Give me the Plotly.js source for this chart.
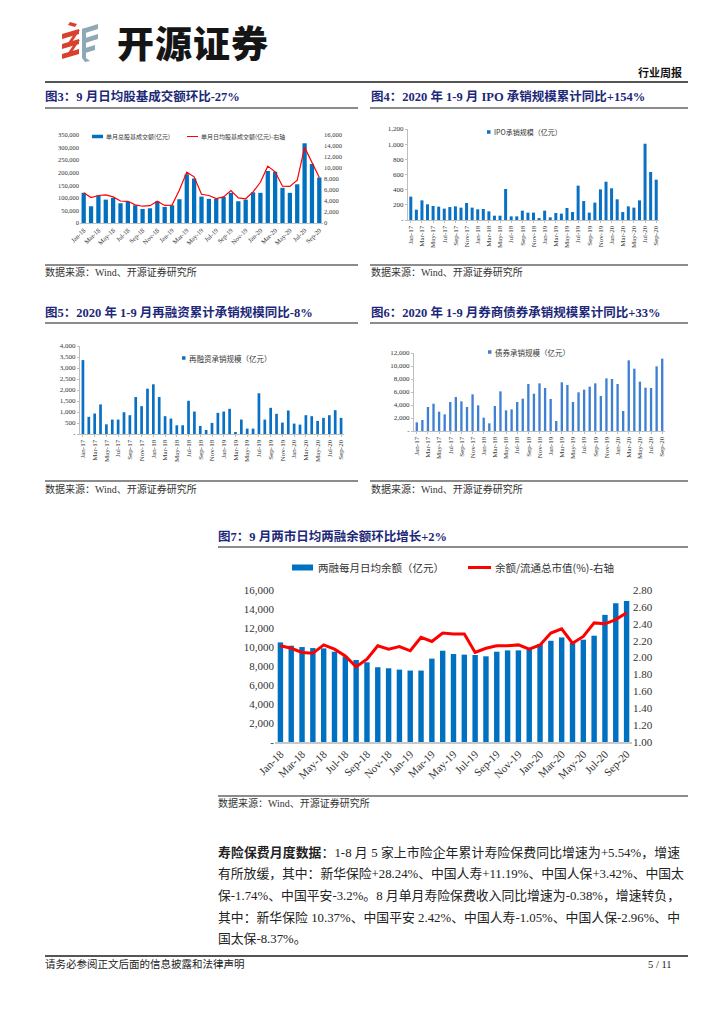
<!DOCTYPE html>
<html><head><meta charset="utf-8">
<script src="https://cdn.plot.ly/plotly-3.0.1.min.js"></script>
<style>
html,body{margin:0;padding:0;background:#fff;}
body{width:724px;height:1024px;position:relative;overflow:hidden;font-family:"Liberation Serif","Noto Sans CJK SC",serif;color:#222;}
.ttl{position:absolute;font-size:12.5px;line-height:16px;font-weight:bold;color:#1c2878;white-space:nowrap;}
.hl{position:absolute;height:0;border-top:2px solid #8c8c8c;}
.src{position:absolute;font-size:10px;line-height:14px;color:#333;white-space:nowrap;}
.chart{position:absolute;}
.para{position:absolute;left:218px;width:462px;font-size:12.8px;line-height:22px;color:#222;text-align:justify;text-align-last:justify;white-space:nowrap;}
</style></head>
<body>
<svg style="position:absolute;left:0;top:0" width="110" height="70">
  <polygon points="70,22 77,24 75,27 68,25" fill="#d8412e"/>
  <polygon points="62,34 79,29 79,34 62,39" fill="#d8412e"/>
  <polygon points="62,44 79,39 79,44 62,49" fill="#d8412e"/>
  <polygon points="62,54 79,49 79,54 62,59" fill="#d8412e"/>
  <polygon points="76,31 80,30 72,42 68,43" fill="#d8412e"/>
  <polygon points="76,41 80,40 72,52 68,53" fill="#d8412e"/>
  <polygon points="82,29 98,24 98,29 82,34" fill="#8fa8b6"/>
  <polygon points="82,39 98,34 98,39 82,44" fill="#8fa8b6"/>
  <polygon points="82,49 95,45 95,50 82,54" fill="#8fa8b6"/>
  <polygon points="82,29 86,28 86,58 90,61 85,62 82,58" fill="#8fa8b6"/>
</svg>
<div style="position:absolute;left:117px;top:18px;font-family:'Noto Sans CJK SC';font-weight:900;font-size:37px;line-height:48px;color:#151515;letter-spacing:1px;">开源证券</div>
<div style="position:absolute;left:638px;top:65px;font-family:'Noto Sans CJK SC';font-weight:bold;font-size:11px;line-height:14px;color:#111;">行业周报</div>
<div class="hl" style="left:45px;width:643px;top:81px;border-top:2px solid #555;"></div>

<div class="ttl" style="left:45px;top:89px;">图3：9 月日均股基成交额环比-27%</div>
<div class="ttl" style="left:371px;top:89px;">图4：2020 年 1-9 月 IPO 承销规模累计同比+154%</div>
<div class="hl" style="left:45px;width:313px;top:107px;"></div>
<div class="hl" style="left:370px;width:318px;top:107px;"></div>

<div id="c3" class="chart" style="left:40px;top:120px;width:310px;height:140px;"></div>
<div id="c4" class="chart" style="left:365px;top:115px;width:310px;height:140px;"></div>

<div class="hl" style="left:45px;width:313px;top:264px;"></div>
<div class="hl" style="left:370px;width:318px;top:264px;"></div>
<div class="src" style="left:45px;top:266px;">数据来源：Wind、开源证券研究所</div>
<div class="src" style="left:371px;top:266px;">数据来源：Wind、开源证券研究所</div>

<div class="ttl" style="left:45px;top:305px;">图5：2020 年 1-9 月再融资累计承销规模同比-8%</div>
<div class="ttl" style="left:371px;top:305px;">图6：2020 年 1-9 月券商债券承销规模累计同比+33%</div>
<div class="hl" style="left:45px;width:313px;top:322px;"></div>
<div class="hl" style="left:370px;width:318px;top:322px;"></div>

<div id="c5" class="chart" style="left:40px;top:335px;width:310px;height:135px;"></div>
<div id="c6" class="chart" style="left:365px;top:335px;width:310px;height:135px;"></div>

<div class="hl" style="left:45px;width:313px;top:480px;"></div>
<div class="hl" style="left:370px;width:318px;top:480px;"></div>
<div class="src" style="left:45px;top:483px;">数据来源：Wind、开源证券研究所</div>
<div class="src" style="left:371px;top:483px;">数据来源：Wind、开源证券研究所</div>

<div class="ttl" style="left:218px;top:529px;">图7：9 月两市日均两融余额环比增长+2%</div>
<div class="hl" style="left:218px;width:470px;top:546px;"></div>

<div id="c7" class="chart" style="left:215px;top:555px;width:460px;height:240px;"></div>

<div class="hl" style="left:218px;width:470px;top:795px;"></div>
<div class="src" style="left:218px;top:797px;">数据来源：Wind、开源证券研究所</div>

<div class="para" style="top:841px;"><b style="font-family:'Noto Sans CJK SC';">寿险保费月度数据</b>：1-8 月 5 家上市险企年累计寿险保费同比增速为+5.54%，增速</div>
<div class="para" style="top:863px;">有所放缓，其中：新华保险+28.24%、中国人寿+11.19%、中国人保+3.42%、中国太</div>
<div class="para" style="top:885px;">保-1.74%、中国平安-3.2%。8 月单月寿险保费收入同比增速为-0.38%，增速转负，</div>
<div class="para" style="top:907px;">其中：新华保险 10.37%、中国平安 2.42%、中国人寿-1.05%、中国人保-2.96%、中</div>
<div class="para" style="top:928px;text-align-last:left;">国太保-8.37%。</div>

<div class="hl" style="left:45px;width:643px;top:955px;border-top:2px solid #555;"></div>
<div class="src" style="left:45px;top:958px;font-size:10.5px;color:#222;">请务必参阅正文后面的信息披露和法律声明</div>
<div class="src" style="left:648px;top:958px;font-size:10.5px;color:#222;">5 / 11</div>

<script>
// ---------- data ----------
const months18 = ["Jan-18","Feb-18","Mar-18","Apr-18","May-18","Jun-18","Jul-18","Aug-18","Sep-18","Oct-18","Nov-18","Dec-18",
  "Jan-19","Feb-19","Mar-19","Apr-19","May-19","Jun-19","Jul-19","Aug-19","Sep-19","Oct-19","Nov-19","Dec-19",
  "Jan-20","Feb-20","Mar-20","Apr-20","May-20","Jun-20","Jul-20","Aug-20","Sep-20"];
const months17 = ["Jan-17","Feb-17","Mar-17","Apr-17","May-17","Jun-17","Jul-17","Aug-17","Sep-17","Oct-17","Nov-17","Dec-17",
  "Jan-18","Feb-18","Mar-18","Apr-18","May-18","Jun-18","Jul-18","Aug-18","Sep-18","Oct-18","Nov-18","Dec-18",
  "Jan-19","Feb-19","Mar-19","Apr-19","May-19","Jun-19","Jul-19","Aug-19","Sep-19","Oct-19","Nov-19","Dec-19",
  "Jan-20","Feb-20","Mar-20","Apr-20","May-20","Jun-20","Jul-20","Aug-20","Sep-20"];
const ticks18 = ["Jan-18","Mar-18","May-18","Jul-18","Sep-18","Nov-18","Jan-19","Mar-19","May-19","Jul-19","Sep-19","Nov-19","Jan-20","Mar-20","May-20","Jul-20","Sep-20"];
const ticks17 = ["Jan-17","Mar-17","May-17","Jul-17","Sep-17","Nov-17","Jan-18","Mar-18","May-18","Jul-18","Sep-18","Nov-18","Jan-19","Mar-19","May-19","Jul-19","Sep-19","Nov-19","Jan-20","Mar-20","May-20","Jul-20","Sep-20"];

// Fig 3
const turnoverMonthly = [120000,66500,109000,93000,100000,78500,85000,70500,56000,58500,86500,64000,70500,94500,194000,177000,105000,96000,96000,104000,120000,86500,93000,122000,120000,207000,204000,140000,120000,154000,317000,235000,181000];
const turnoverDaily = [5500,4620,5000,5100,4750,4000,3950,3300,3050,3150,3950,3200,3250,6000,9250,8400,5230,5000,4450,4750,5900,4560,4400,5650,7400,10340,9300,6700,6650,7800,13750,11070,8270];
// Fig 4
const ipoUnderwriting = [308,136,259,207,185,176,150,171,180,163,224,163,141,145,114,57,57,409,48,48,123,97,97,26,123,35,92,84,158,105,453,250,97,229,404,505,418,273,105,180,163,259,1006,633,532];
// Fig 5
const refinancing = [3360,780,930,1345,440,655,655,990,855,1680,1265,2060,2260,1680,810,700,397,397,1510,1020,366,183,504,962,1020,1145,92,656,244,244,1850,656,1190,916,519,1070,473,427,855,810,595,733,855,1084,733];
// Fig 6
const bondUnderwriting = [1330,1690,3690,4200,2970,2560,4460,5230,4560,3690,5640,3950,2050,1180,3850,6100,3180,3330,4460,4970,7230,5740,7330,6620,4920,1540,7490,7080,4460,5950,6360,6820,7330,5380,8100,8000,7230,3080,10870,9590,7590,6670,6620,9950,11130];
// Fig 7
const marginBalance = [10485,10135,9995,9890,9855,9505,9020,8635,8390,7870,7760,7620,7520,7520,8775,9610,9260,9195,9160,9020,9505,9645,9645,9785,10310,10655,11005,10420,10770,11190,13380,14600,14845];
const marginRatio = [2.14,2.11,2.06,2.05,2.15,2.10,2.02,1.89,1.98,2.14,2.10,2.13,2.08,2.24,2.19,2.29,2.28,2.28,2.06,2.11,2.14,2.14,2.15,2.10,2.15,2.29,2.34,2.17,2.25,2.41,2.40,2.45,2.53];

// tick label arrays
const t3L = [0,50000,100000,150000,200000,250000,300000,350000];
const t3R = [0,2000,4000,6000,8000,10000,12000,14000,16000];
const t4 = [0,200,400,600,800,1000,1200];
const t5 = [0,500,1000,1500,2000,2500,3000,3500,4000];
const t6 = [0,2000,4000,6000,8000,10000,12000];
const t7L = [0,2000,4000,6000,8000,10000,12000,14000,16000];
const t7R = [1.0,1.2,1.4,1.6,1.8,2.0,2.2,2.4,2.6,2.8];

// ---------- helpers ----------
const FONT = '"Liberation Serif","Noto Sans CJK SC",serif';
const CJK = '"Noto Sans CJK SC","Liberation Serif",sans-serif';
const fmt = v => v.toLocaleString('en-US');
const dashZero = arr => arr.map(v => v === 0 ? '-' : fmt(v));

function legendParts(W, H, m, items) {
  const pw = W - m.l - m.r, ph = H - m.t - m.b;
  const px = x => (x - m.l) / pw, py = y => (H - m.b - y) / ph;
  const shapes = [], ann = [];
  items.forEach(it => {
    if (it.kind === 'rect') {
      shapes.push({type:'rect', xref:'paper', yref:'paper', x0:px(it.x0), x1:px(it.x1),
        y0:py(it.y + it.h/2), y1:py(it.y - it.h/2), fillcolor:it.color, line:{width:0}});
    } else {
      shapes.push({type:'line', xref:'paper', yref:'paper', x0:px(it.x0), x1:px(it.x1),
        y0:py(it.y), y1:py(it.y), line:{color:it.color, width:it.w}});
    }
    ann.push({xref:'paper', yref:'paper', x:px(it.tx), y:py(it.y), xanchor:'left', yanchor:'middle',
      showarrow:false, text:it.text, font:{family:CJK, size:it.fs, color:'#333'}});
  });
  return {shapes, annotations: ann};
}

const cfg = {staticPlot:true, displayModeBar:false};

// ---------- Fig 3 ----------
(function(){
  const W=310,H=140,m={l:40,r:27,t:15,b:37,pad:0};
  const lg = legendParts(W,H,m,[
    {kind:'rect', x0:52, x1:63, y:16.5, h:3.5, color:'#0070C0', tx:64, text:'单月总股基成交额(亿元)', fs:6},
    {kind:'line', x0:147, x1:158, y:16.5, w:1, color:'#FF0000', tx:159, text:'单月日均股基成交额(亿元)-右轴', fs:6}
  ]);
  Plotly.newPlot('c3', [
    {type:'bar', x:months18, y:turnoverMonthly, marker:{color:'#0070C0'}, name:'单月总股基成交额(亿元)'},
    {type:'scatter', mode:'lines', x:months18, y:turnoverDaily, yaxis:'y2', line:{color:'#FF0000', width:1.2}, name:'单月日均股基成交额(亿元)-右轴'}
  ], {
    width:W, height:H, margin:m, showlegend:false, bargap:0.42,
    paper_bgcolor:'#fff', plot_bgcolor:'#fff', font:{family:FONT, size:6.5, color:'#333'},
    xaxis:{type:'category', range:[-0.5,32.5], tickvals:ticks18, ticktext:ticks18, tickangle:-45,
      showline:true, linecolor:'#bfbfbf', linewidth:1, ticks:'', showgrid:false, tickfont:{size:6.5}, automargin:false},
    yaxis:{range:[0,350000], tickvals:t3L, ticktext:t3L.map(fmt), showgrid:false, zeroline:false, ticks:'', tickfont:{size:6.5}, automargin:false},
    yaxis2:{overlaying:'y', side:'right', range:[0,16000], tickvals:t3R, ticktext:t3R.map(fmt), showgrid:false, zeroline:false, tickfont:{size:6.5}, automargin:false},
    shapes:lg.shapes, annotations:lg.annotations
  }, cfg);
})();

// ---------- generic single bar chart ----------
function barChart(id, W, H, m, cats, vals, ticks, yt, yr, color, gap, fs, legendItem) {
  const lg = legendParts(W,H,m,[legendItem]);
  Plotly.newPlot(id, [
    {type:'bar', x:cats, y:vals, marker:{color:color}, name:legendItem.text}
  ], {
    width:W, height:H, margin:m, showlegend:false, bargap:gap,
    paper_bgcolor:'#fff', plot_bgcolor:'#fff', font:{family:FONT, size:fs, color:'#333'},
    xaxis:{type:'category', range:[-0.5,cats.length-0.5], tickvals:ticks, ticktext:ticks, tickangle:-90,
      showline:true, linecolor:'#bfbfbf', linewidth:1, ticks:'outside', ticklen:2, tickcolor:'#bfbfbf',
      showgrid:false, tickfont:{size:fs}, automargin:false},
    yaxis:{range:yr, tickvals:yt, ticktext:dashZero(yt), showgrid:false, zeroline:false,
      showline:true, linecolor:'#bfbfbf', linewidth:1, ticks:'outside', ticklen:2, tickcolor:'#bfbfbf',
      tickfont:{size:fs}, automargin:false},
    shapes:lg.shapes, annotations:lg.annotations
  }, cfg);
}

barChart('c4', 310, 140, {l:43,r:16,t:14,b:35,pad:0}, months17, ipoUnderwriting, ticks17, t4, [0,1200], '#0a70c4', 0.46, 7,
  {kind:'rect', x0:122, x1:125.5, y:17, h:3.5, color:'#0a70c4', tx:127, text:'IPO承销规模（亿元）', fs:7});
barChart('c5', 310, 135, {l:40,r:6,t:11,b:36,pad:0}, months17, refinancing, ticks17, t5, [0,4000], '#0a70c4', 0.54, 7,
  {kind:'rect', x0:142, x1:145.5, y:23, h:3.5, color:'#0a70c4', tx:147, text:'再融资承销规模（亿元）', fs:7.5});
barChart('c6', 310, 135, {l:49,r:10,t:18,b:39,pad:0}, months17, bondUnderwriting, ticks17, t6, [0,12000], '#3f80d2', 0.58, 7,
  {kind:'rect', x0:123, x1:126.5, y:17, h:3.5, color:'#3f80d2', tx:128, text:'债券承销规模（亿元）', fs:7.5});

// ---------- Fig 7 ----------
(function(){
  const W=460,H=240,m={l:60,r:43,t:35,b:53,pad:0};
  const lg = legendParts(W,H,m,[
    {kind:'rect', x0:77, x1:98, y:12.5, h:6, color:'#0070C0', tx:101, text:'两融每月日均余额（亿元）', fs:10.5},
    {kind:'line', x0:253, x1:276, y:12.5, w:3, color:'#FF0000', tx:278, text:'余额/流通总市值(%)-右轴', fs:10.5}
  ]);
  Plotly.newPlot('c7', [
    {type:'bar', x:months18, y:marginBalance, marker:{color:'#0070C0'}, name:'两融每月日均余额（亿元）'},
    {type:'scatter', mode:'lines', x:months18, y:marginRatio, yaxis:'y2', line:{color:'#FF0000', width:3}, name:'余额/流通总市值(%)-右轴'}
  ], {
    width:W, height:H, margin:m, showlegend:false, bargap:0.5,
    paper_bgcolor:'#fff', plot_bgcolor:'#fff', font:{family:FONT, size:11, color:'#333'},
    xaxis:{type:'category', range:[-0.5,32.5], tickvals:ticks18, ticktext:ticks18, tickangle:-45,
      showline:true, linecolor:'#c8c8c8', linewidth:1.5, ticks:'', showgrid:false, tickfont:{size:11}, automargin:false},
    yaxis:{range:[0,16000], tickvals:t7L, ticktext:dashZero(t7L), showgrid:false, zeroline:false, ticks:'', tickfont:{size:11}, automargin:false},
    yaxis2:{overlaying:'y', side:'right', range:[1.0,2.8], tickvals:t7R, ticktext:t7R.map(v=>v.toFixed(2)), showgrid:false, zeroline:false, tickfont:{size:11}, automargin:false},
    shapes:lg.shapes, annotations:lg.annotations
  }, cfg);
})();
</script>
</body></html>
